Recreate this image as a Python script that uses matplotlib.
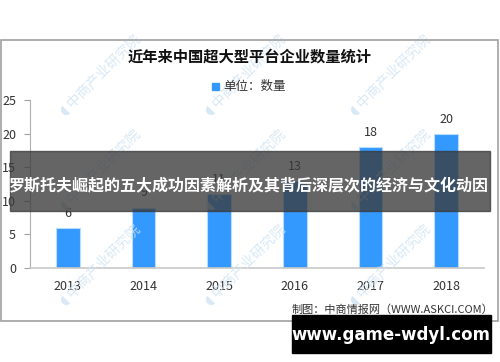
import matplotlib
matplotlib.use('Agg')
import matplotlib.pyplot as plt
from matplotlib.patches import Rectangle

plt.rcParams['font.family'] = ['Noto Sans CJK SC', 'DejaVu Sans']

years = ['2013', '2014', '2015', '2016', '2017', '2018']
counts = [6, 9, 11, 13, 18, 20]
yticks = [0, 5, 10, 15, 20, 25]

W, H = 500, 362
fig = plt.figure(figsize=(5, 3.62), dpi=100)


def fx(x):
    return x / W


def fy(y):
    return 1 - y / H


# outer frame
fig.patches.append(Rectangle((fx(1), fy(321)), fx(497), (321 - 40) / H,
                             transform=fig.transFigure, fill=False,
                             edgecolor='#a0a0a0', linewidth=1.2))

# watermarks
for cx in [100, 245, 390]:
    for cy in [75, 170, 265]:
        fig.text(fx(cx), fy(cy), '◖ 中商产业研究院', rotation=45, fontsize=10,
                 color='#cfe3f3', ha='center', va='center', alpha=0.8,
                 family=['Noto Sans CJK SC', 'DejaVu Sans'], zorder=0)

ax = fig.add_axes([fx(30), fy(268), fx(454), (268 - 100) / H])
ax.patch.set_alpha(0)
bars = ax.bar(range(len(years)), counts, width=0.31, color='#3399ff',
              edgecolor='#b8dcff', linewidth=0.8, zorder=2)
for i, v in enumerate(counts):
    ax.text(i, v + 1.2, str(v), ha='center', va='bottom', fontsize=9,
            color='#333333')

ax.set_xlim(-0.5, len(years) - 0.5)
ax.set_ylim(0, 25)
ax.set_yticks(yticks)
ax.set_xticks(range(len(years)))
ax.set_xticklabels(years)
ax.tick_params(axis='y', length=4, color='#a0a0a0', labelsize=9,
               labelcolor='#333333', pad=6)
ax.tick_params(axis='x', length=0, labelsize=9, labelcolor='#333333', pad=9)
for s in ['top', 'right']:
    ax.spines[s].set_visible(False)
ax.spines['left'].set_color('#b0b0b0')
ax.spines['bottom'].set_color('#c8c8c8')
ax.spines['bottom'].set_linewidth(1.2)

# title and legend
fig.text(fx(250), fy(57), '近年来中国超大型平台企业数量统计', ha='center',
         va='center', fontsize=11, fontweight='bold', color='#111111')
fig.patches.append(Rectangle((fx(212), fy(90)), fx(7), 7 / H,
                             transform=fig.transFigure, color='#3399ff'))
fig.text(fx(223), fy(86), '单位：数量', ha='left', va='center', fontsize=9,
         color='#333333')

# source
fig.text(fx(493), fy(310), '制图：中商情报网（WWW.ASKCI.COM）', ha='right',
         va='center', fontsize=8, color='#333333')

# overlay banner
fig.patches.append(Rectangle((fx(10), fy(211)), fx(480), 60 / H,
                             transform=fig.transFigure, color='#3a3a3a',
                             alpha=0.78, zorder=10))
fig.text(fx(249), fy(185), '罗斯托夫崛起的五大成功因素解析及其背后深层次的经济与文化动因',
         ha='center', va='center', fontsize=11.5, fontweight='bold',
         color='white', zorder=11)

# bottom box
fig.patches.append(Rectangle((fx(292), fy(353)), fx(199), 38 / H,
                             transform=fig.transFigure, color='black',
                             zorder=10))
fig.text(fx(391), fy(335), 'www.game-wdyl.com', ha='center', va='center',
         fontsize=12, fontweight='bold', color='white', zorder=11,
         family='DejaVu Sans')

fig.savefig('out.png', dpi=100)
